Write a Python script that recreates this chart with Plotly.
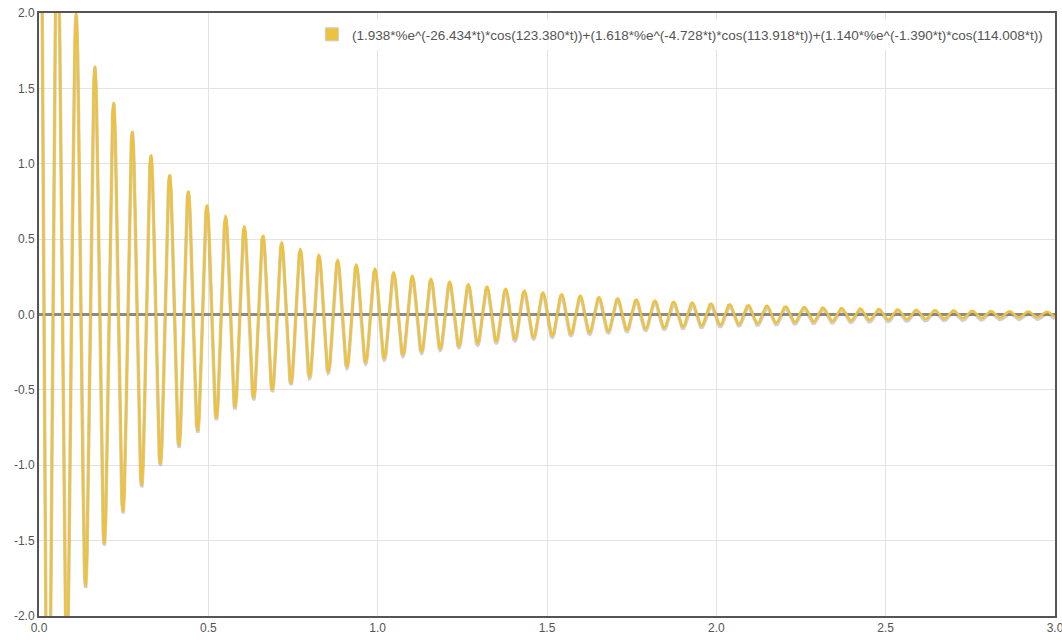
import numpy as np
import plotly.graph_objects as go

# Coefficients
amplitudes = [1.938, 1.618, 1.140]
decays = [26.434, 4.728, 1.390]
omegas = [123.380, 113.918, 114.008]
legend_label = "(1.938*%e^(-26.434*t)*cos(123.380*t))+(1.618*%e^(-4.728*t)*cos(113.918*t))+(1.140*%e^(-1.390*t)*cos(114.008*t))"
x_ticks = [0.0, 0.5, 1.0, 1.5, 2.0, 2.5, 3.0]
y_ticks = [-2.0, -1.5, -1.0, -0.5, 0.0, 0.5, 1.0, 1.5, 2.0]

t = np.linspace(0, 3, 6001)
y = sum(a * np.exp(-d * t) * np.cos(w * t) for a, d, w in zip(amplitudes, decays, omegas))

COLOR = "#EDC240"
fig = go.Figure()
fig.add_trace(go.Scatter(x=t, y=y - 0.012, mode="lines", line=dict(color="rgba(120,120,120,0.35)", width=3.5),
                         showlegend=False, hoverinfo="skip"))
fig.add_trace(go.Scatter(x=t, y=y, mode="lines", line=dict(color=COLOR, width=2.5),
                         name=legend_label, showlegend=False))
# legend entry (square swatch)
fig.add_trace(go.Scatter(x=[None], y=[None], mode="markers",
                         marker=dict(symbol="square", size=13, color=COLOR,
                                     line=dict(color="#cccccc", width=1)),
                         name=legend_label, showlegend=True))

fig.update_layout(
    width=1062, height=640,
    margin=dict(l=39, r=7, t=13, b=24),
    paper_bgcolor="white", plot_bgcolor="white",
    font=dict(family="Liberation Sans, Arial, sans-serif", size=12, color="#545454"),
    showlegend=True,
    legend=dict(x=0.993, y=0.99, xanchor="right", yanchor="top",
                bgcolor="rgba(255,255,255,0.85)", borderwidth=0,
                font=dict(size=13.5, color="#545454"), itemwidth=30),
)
fig.update_xaxes(range=[0, 3], tickvals=x_ticks, ticktext=[f"{v:.1f}" for v in x_ticks],
                 showgrid=True, gridcolor="#e3e3e3", gridwidth=1, zeroline=False,
                 showline=True, linecolor="#555555", linewidth=2, mirror=True, ticks="",
                 automargin=False, ticklabeloverflow="allow")
fig.update_yaxes(range=[-2, 2], tickvals=y_ticks, ticktext=[f"{v:.1f}" for v in y_ticks],
                 showgrid=True, gridcolor="#e3e3e3", gridwidth=1, zeroline=True,
                 zerolinecolor="#8a8a8a", zerolinewidth=2.5,
                 showline=True, linecolor="#555555", linewidth=2, mirror=True, ticks="",
                 automargin=False, ticklabeloverflow="allow")

fig.write_html("out.html", config={"displayModeBar": False},
               post_script="document.body.style.margin='0';document.body.style.overflow='hidden';")
